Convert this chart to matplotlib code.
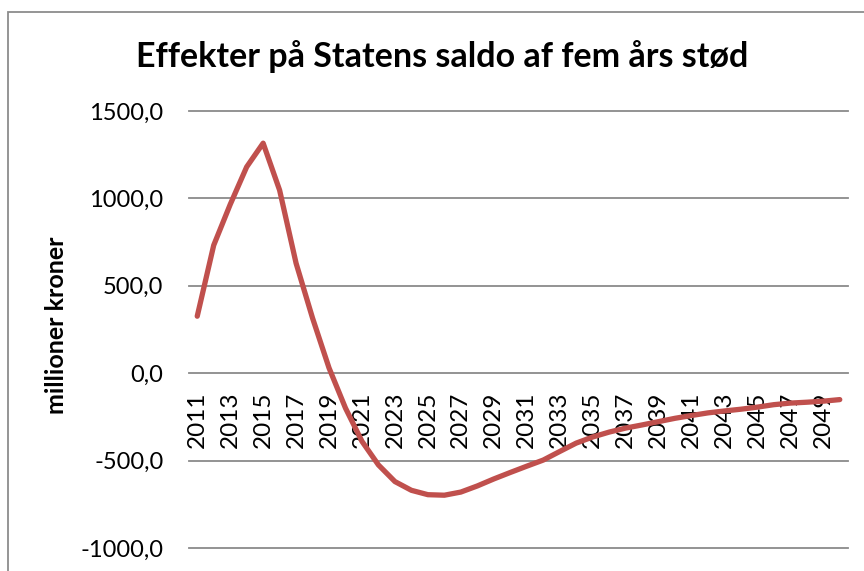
import matplotlib
matplotlib.use("Agg")
import matplotlib.pyplot as plt
from matplotlib.patches import Rectangle

years = list(range(2011, 2051))
saldo = [326, 732, 965, 1180, 1316, 1047, 629, 315, 30, -200,
         -390, -525, -620, -670, -695, -698, -680, -645, -605, -568,
         -532, -497, -448, -400, -365, -337, -314, -296, -277, -258,
         -242, -227, -216, -206, -194, -180, -171, -166, -160, -151]
yticks = [-1000, -500, 0, 500, 1000, 1500]
ytick_labels = ["-1000,0", "-500,0", "0,0", "500,0", "1000,0", "1500,0"]
xtick_years = years[::2]
title = "Effekter på Statens saldo af fem års stød"
ylabel = "millioner kroner"

plt.rcParams['font.family'] = ['Lato', 'DejaVu Sans']

W, H = 864, 571
fig = plt.figure(figsize=(W / 100, H / 100), dpi=100)

# chart border (extends beyond image right/bottom)
fig.patches.append(Rectangle((8 / W, -0.1), 1.2, (571 - 12) / H + 0.1,
                             transform=fig.transFigure, fill=False,
                             edgecolor="#8c8c8c", linewidth=1.3))

left, right = 189 / W, 848 / W
top, bottom = (H - 111) / H, (H - 548) / H
ax = fig.add_axes([left, bottom, right - left, top - bottom])

ax.set_xlim(years[0] - 0.5, years[-1] + 0.5)
ax.set_ylim(-1000, 1500)

for v in yticks:
    ax.axhline(v, color="#8a8a8a", linewidth=1.3, clip_on=False, zorder=1)

ax.plot(years, saldo, color="#C0504D", linewidth=3.8, zorder=3,
        solid_joinstyle="round", solid_capstyle="round")

for s in ax.spines.values():
    s.set_visible(False)
ax.spines['bottom'].set_position(('data', 0))

ax.set_yticks(yticks)
ax.set_yticklabels(ytick_labels, fontsize=17)
ax.tick_params(axis='y', length=0, pad=18.5)

ax.set_xticks(xtick_years)
ax.set_xticklabels([str(y) for y in xtick_years], rotation=90, fontsize=17.5)
ax.tick_params(axis='x', length=0, pad=13)

fig.text(57 / W, (H - 325) / H, ylabel, rotation=90, fontsize=18,
         fontweight='bold', ha='center', va='center')
fig.text(442 / W, (H - 67) / H, title, fontsize=24.5, fontweight='bold',
         ha='center', va='baseline')

fig.savefig("out.png", dpi=100)
